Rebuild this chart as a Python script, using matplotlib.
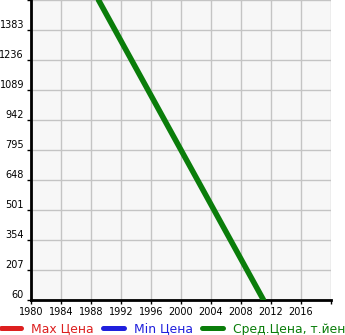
import matplotlib
matplotlib.use("Agg")
import matplotlib.pyplot as plt
from matplotlib.lines import Line2D

# Data
years = [1989, 2011]
avg_price = [1530, 60]
x_ticks = [1980, 1984, 1988, 1992, 1996, 2000, 2004, 2008, 2012, 2016, 2020]
x_labels = ["1980", "1984", "1988", "1992", "1996", "2000", "2004", "2008", "2012", "2016", ""]
y_ticks = [60, 207, 354, 501, 648, 795, 942, 1089, 1236, 1383, 1530]
y_labels = ["60", "207", "354", "501", "648", "795", "942", "1089", "1236", "1383", ""]
legend_labels = ["Max Цена", "Min Цена", "Сред.Цена, т.йен"]
legend_colors = ["#dd1f1f", "#1f1fdd", "#0a7d0a"]

W, H = 345, 335
fig = plt.figure(figsize=(W / 100, H / 100), dpi=100)
ax = fig.add_axes([31 / W, 35 / H, 300 / W, 300 / H])
ax.set_facecolor("#f7f7f7")

ax.plot(years, avg_price, color=legend_colors[2], lw=4, solid_capstyle="round", zorder=3)

ax.set_xlim(1980, 2020)
ax.set_ylim(60, 1530)
ax.set_xticks(x_ticks)
ax.set_xticklabels(x_labels, fontsize=7)
ax.set_yticks(y_ticks)
ax.set_yticklabels(y_labels, fontsize=7)
for lbl in ax.get_yticklabels():
    lbl.set_va("bottom")
ax.tick_params(axis="both", length=3, width=1, color="black", pad=2)
ax.grid(True, color="#c4c4c4", lw=1)
ax.set_axisbelow(True)

for side in ["top", "right"]:
    ax.spines[side].set_visible(False)
for side in ["left", "bottom"]:
    ax.spines[side].set_linewidth(2)
    ax.spines[side].set_color("black")

handles = [Line2D([], [], color=c, lw=3.6, solid_capstyle="round") for c in legend_colors]
fig.legend(handles, legend_labels, loc="center left", bbox_to_anchor=(0.5 / W, 6 / H),
           ncol=3, frameon=False, fontsize=8.9, labelcolor=legend_colors,
           handlelength=1.65, handletextpad=0.8, columnspacing=0.8, borderpad=0, borderaxespad=0)

fig.savefig("out.png", dpi=100)
